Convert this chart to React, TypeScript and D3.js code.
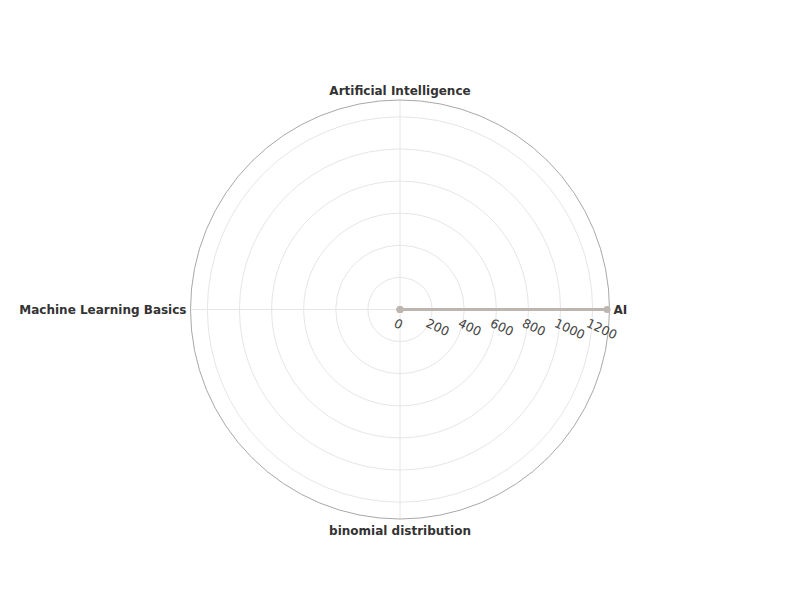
import React from 'react';
import * as d3 from 'd3';

const categories = ['AI', 'Artificial Intelligence', 'Machine Learning Basics', 'binomial distribution'];
const values = [1290, 0, 0, 0];
const radialTicks = [0, 200, 400, 600, 800, 1000, 1200];

export default function App() {
  const width = 800;
  const height = 600;
  const cx = 400;
  const cy = 309.5;
  const outerR = 209.5;
  const font = '"DejaVu Sans", Verdana, sans-serif';

  const rScale = d3.scaleLinear().domain([0, 1305]).range([0, outerR]);
  // four categories evenly spaced counterclockwise starting at 0
  const theta = (c: string) => (categories.indexOf(c) / categories.length) * 2 * Math.PI;

  const pts = categories.map((c, i) => {
    const a = theta(c);
    const r = rScale(values[i]);
    return [cx + r * Math.cos(a), cy - r * Math.sin(a)] as [number, number];
  });
  const line = d3.line().curve(d3.curveLinearClosed)(pts) || '';

  const labelOffset = (i: number) => {
    const a = theta(categories[i]);
    const r = outerR + 6;
    const x = cx + r * Math.cos(a);
    const y = cy - r * Math.sin(a);
    if (i === 0) return { x: x - 2, y: y + 4, anchor: 'start' };
    if (i === 1) return { x, y: y + 1, anchor: 'middle' };
    if (i === 2) return { x: x + 2, y: y + 4, anchor: 'end' };
    return { x, y: y + 10, anchor: 'middle' };
  };

  return (
    <svg width={width} height={height} style={{ display: 'block', margin: -8, background: '#fff' }}>
      {radialTicks.slice(1).map((t) => (
        <circle key={t} cx={cx} cy={cy} r={rScale(t)} fill="none" stroke="#e6e6e6" strokeWidth={1} />
      ))}
      {categories.map((c) => {
        const a = theta(c);
        return (
          <line
            key={c}
            x1={cx}
            y1={cy}
            x2={cx + outerR * Math.cos(a)}
            y2={cy - outerR * Math.sin(a)}
            stroke="#e6e6e6"
            strokeWidth={1}
          />
        );
      })}
      <circle cx={cx} cy={cy} r={outerR} fill="none" stroke="#a8a8a8" strokeWidth={1} />
      <path d={line} fill="none" stroke="#bdb6b0" strokeWidth={3} strokeLinejoin="round" />
      {pts.map((p, i) => (
        <circle key={i} cx={p[0]} cy={p[1]} r={3.5} fill="#bdb6b0" />
      ))}
      {radialTicks.map((t) => {
        const x = cx + rScale(t) - 3;
        const y = cy + 8;
        return (
          <text
            key={t}
            x={x}
            y={y}
            transform={`rotate(25 ${x} ${y})`}
            fontFamily={font}
            fontSize={12.5}
            fill="#444"
            dominantBaseline="hanging"
          >
            {t}
          </text>
        );
      })}
      {categories.map((c, i) => {
        const o = labelOffset(i);
        return (
          <text
            key={c}
            x={o.x}
            y={o.y}
            textAnchor={o.anchor}
            fontFamily={font}
            fontSize={12}
            fontWeight="bold"
            fill="#333"
          >
            {c}
          </text>
        );
      })}
    </svg>
  );
}
